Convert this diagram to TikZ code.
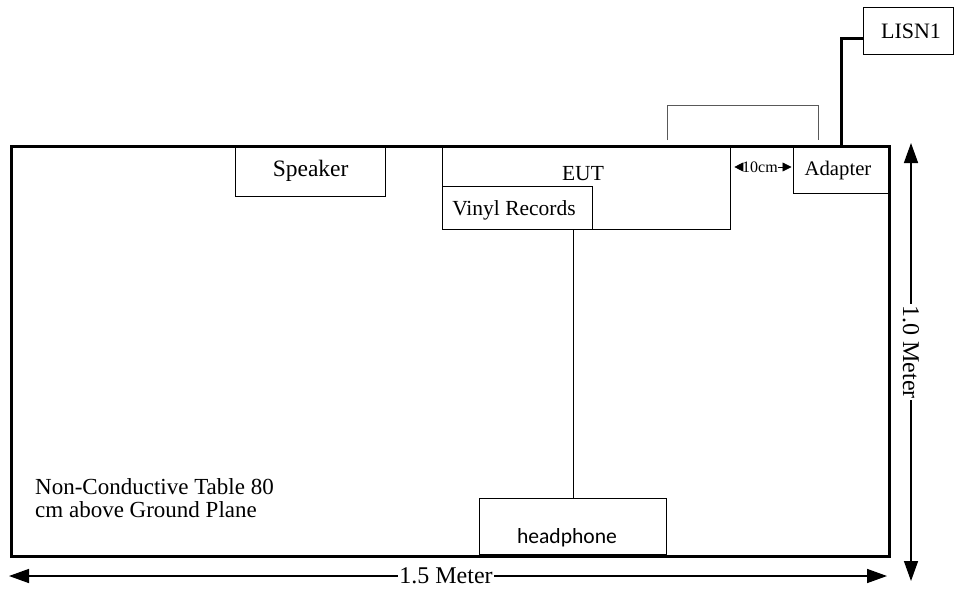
\documentclass[tikz,border=0pt]{standalone}
\usepackage{fontspec}
\setmainfont{Liberation Serif}
\newfontfamily\hpfont{Carlito}
\usetikzlibrary{arrows.meta}
\begin{document}
\begin{tikzpicture}[x=1pt,y=-1pt,
  box/.style={draw,line width=1.3pt,inner sep=0pt,anchor=north west},
  tablebox/.style={draw,line width=3pt,inner sep=0pt,anchor=north west},
  lbl/.style={inner sep=0pt},
  dimline/.style={line width=1.5pt,{Triangle[length=20pt,width=14pt]}-{Triangle[length=20pt,width=14pt]}},
  smallarrow/.style={line width=0.8pt,-{Triangle[length=9pt,width=9pt]}},
  wire/.style={line width=1.2pt},
  thinwire/.style={line width=1pt,black!65},
  thickwire/.style={line width=3pt}]
\useasboundingbox (0,0) rectangle (955,589);

% table
\node[tablebox,minimum width=878pt,minimum height=410pt] (table) at (10,145) {};

% boxes
\node[box,minimum width=150pt,minimum height=51pt,font=\fontsize{23.5}{26}\selectfont] (speaker) at (235,145) {Speaker};
\node[box,minimum width=288pt,minimum height=84pt] (eut) at (442,145) {};
\node[lbl,anchor=base,font=\fontsize{21.5}{24}\selectfont] (eutlbl) at (583,180) {EUT};
\node[box,minimum width=150pt,minimum height=43pt] (vinyl) at (442,186) {};
\node[lbl,anchor=base,font=\fontsize{21.5}{24}\selectfont] (vinyllbl) at (514,215) {Vinyl Records};
\node[box,minimum width=95pt,minimum height=48pt] (adapter) at (793,145) {};
\node[lbl,anchor=base,font=\fontsize{20.7}{24}\selectfont] (adapterlbl) at (838,175) {Adapter};
\node[box,minimum width=90pt,minimum height=47pt] (lisn) at (863,7) {};
\node[lbl,anchor=base,font=\fontsize{22}{24}\selectfont] (lisnlbl) at (911,38) {LISN1};
\node[box,minimum width=187pt,minimum height=56pt] (hp) at (479,498) {};
\node[lbl,anchor=base,font=\hpfont\fontsize{21.6}{24}\selectfont] (hplbl) at (567,543) {headphone};

% table text
\node[lbl,anchor=base west,font=\fontsize{23}{24}\selectfont] (t1) at (35,494) {Non-Conductive Table 80};
\node[lbl,anchor=base west,font=\fontsize{23}{24}\selectfont] (t2) at (35,517) {cm above Ground Plane};

% wires
\draw[wire] (vinyl.south -| hp.north) -- (hp.north);
\coordinate (ca) at (667,140);
\coordinate (cb) at (818,140);
\draw[thinwire] (ca) -- (667,105) -- (818,105) -- (cb);
\coordinate (la) at (841,145);
\coordinate (lb) at (841,38);
\draw[thickwire] (la) -- (lb) -- (lisn.west |- lb);

% 10cm
\node[lbl,font=\fontsize{16}{16}\selectfont] (ten) at (760,167) {10cm};
\draw[smallarrow] (ten.west) -- ([xshift=3pt]eut.east |- ten);
\draw[smallarrow] (ten.east) -- ([xshift=-1.5pt]adapter.west |- ten);

% 1.0 Meter
\coordinate (vt) at (911,143);
\coordinate (vb) at (911,581);
\draw[dimline] (vt) -- (vb);
\node[fill=white,inner sep=1pt,rotate=-90,font=\fontsize{24}{24}\selectfont] (onem) at (911,352) {1.0 Meter};

% 1.5 Meter
\coordinate (hl) at (9,576);
\coordinate (hr) at (887,576);
\draw[dimline] (hl) -- (hr);
\node[fill=white,inner sep=1pt,font=\fontsize{24}{24}\selectfont] (onefive) at (446,576) {1.5 Meter};
\end{tikzpicture}
\end{document}
